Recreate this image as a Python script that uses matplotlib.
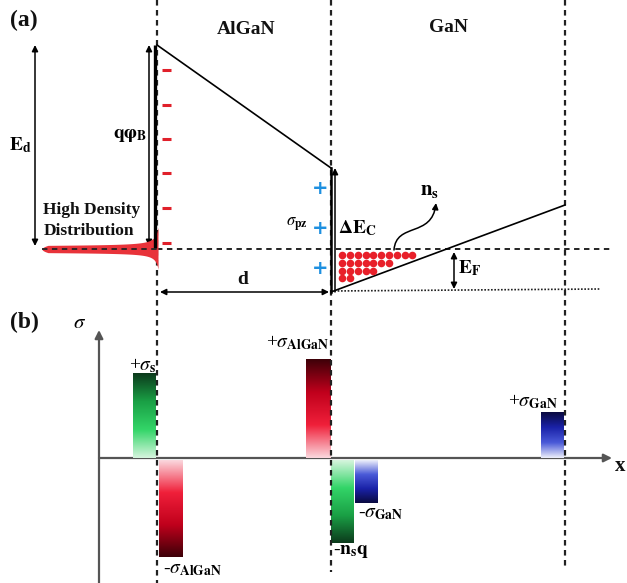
import numpy as np
import matplotlib
matplotlib.use("Agg")
import matplotlib.pyplot as plt
from matplotlib.patches import FancyArrowPatch
from matplotlib.path import Path
from matplotlib.colors import LinearSegmentedColormap

plt.rcParams['font.family'] = ['Liberation Serif', 'DejaVu Serif']
plt.rcParams['mathtext.fontset'] = 'stix'

# ---------------- data (schematic, pixel-like coordinates) ----------------
# interfaces
x_interfaces = [157, 331, 565]
fermi_y = 249
# conduction band (a)
algan_band_x = [157, 331]
algan_band_y = [45, 168]
gan_band_x = [331, 565]
gan_band_y = [292, 205]
# surface negative charges (red minus) and interface positive charges (blue plus)
minus_y = [70, 105, 139, 173, 208, 243]
plus_y = [189, 228, 268]
# 2DEG dots
dot_cols = [342, 350, 358, 366, 373, 381, 389, 397, 405, 412]
dot_rows = [255, 263, 271, 278]
dots_per_row = [10, 7, 5, 2]

# (b) charge bars
bar_names = ['+s', '-AlGaN', '+AlGaN', '-nsq', '-GaN', '+GaN']
bar_left = [133, 159, 306, 331, 355, 541]
bar_right = [156, 183, 331, 354, 378, 564]
bar_value = [85, -97, 99, -83, -43, 46]
bar_color = ['green', 'red', 'red', 'green', 'blue', 'blue']
axis_y0 = 458

fig = plt.figure(figsize=(6.27, 5.83), dpi=100)
ax = fig.add_axes([0, 0, 1, 1])
ax.set_xlim(0, 627)
ax.set_ylim(583, 0)
ax.axis('off')

lw = 1.2
# dashed vertical lines
ax.plot([157, 157], [0, 583], ls=(0, (2.5, 2)), color='#222', lw=1.6)
ax.plot([331, 331], [0, 572], ls=(0, (2.5, 2)), color='#222', lw=1.6)
ax.plot([565, 565], [0, 568], ls=(0, (2.5, 2)), color='#222', lw=1.6)

# fermi level
ax.plot([157, 610], [fermi_y, fermi_y], ls=(0, (3, 2.5)), color='#111', lw=1.3)
# dotted bottom line
ax.plot([331, 600], [291, 289], ls=(0, (1, 1)), color='#222', lw=1.2)

# high density distribution
xs = np.linspace(42, 158, 500)
taper = np.clip(np.sqrt((xs - 42) / 6.0), 0, 1)
w_up = (3.6 + 0.004 * (xs - 42) + 55 / (161 - xs) - 55 / 119) * taper
w_dn = (3.6 + 0.004 * (xs - 42) + 50 / (161 - xs) - 50 / 119) * taper
ax.fill_between(xs, fermi_y - w_up, fermi_y + w_dn, color='#e8333a', lw=0, zorder=2)
ax.plot([42, 157], [fermi_y, fermi_y], ls=(0, (3, 2.5)), color='#222', lw=1.3, zorder=3)

# band lines
ax.plot([155, 155], [45, 248], color='black', lw=2.4, solid_capstyle='butt')
ax.plot(algan_band_x, algan_band_y, color='black', lw=lw)
ax.plot([331, 331], [168, 292], color='black', lw=1.8)
ax.plot(gan_band_x, gan_band_y, color='black', lw=lw)

def darrow(x0, y0, x1, y1, lw=1.1):
    ax.add_patch(FancyArrowPatch((x0, y0), (x1, y1), arrowstyle='<|-|>',
                                 mutation_scale=9, color='black', lw=lw,
                                 shrinkA=0, shrinkB=0))

def sarrow(x0, y0, x1, y1, lw=1.1):
    ax.add_patch(FancyArrowPatch((x0, y0), (x1, y1), arrowstyle='-|>',
                                 mutation_scale=9, color='black', lw=lw,
                                 shrinkA=0, shrinkB=0))

darrow(35, 45, 35, 246)
darrow(149, 45, 149, 246)
sarrow(335, 292, 335, 168)
darrow(454, 252, 454, 289)
darrow(160, 292, 329, 292)

# minus / plus signs
for y in minus_y:
    ax.plot([162, 171], [y, y], color='#e0202a', lw=2.2, solid_capstyle='butt')
for y in plus_y:
    ax.text(320, y, '+', color='#1e90e0', fontsize=14, fontweight='bold',
            ha='center', va='center', family='DejaVu Sans')

# 2DEG dots
dx, dy = [], []
for r, n in zip(dot_rows, dots_per_row):
    for c in dot_cols[:n]:
        dx.append(c)
        dy.append(r)
ax.scatter(dx, dy, s=30, color='#e8202a', lw=0, zorder=4)

# n_s curvy arrow
verts = [(394, 250), (396, 222), (432, 238), (436, 203)]
codes = [Path.MOVETO, Path.CURVE4, Path.CURVE4, Path.CURVE4]
ax.add_patch(FancyArrowPatch(path=Path(verts, codes), arrowstyle='-|>',
                             mutation_scale=9, color='black', lw=1.1))

# texts (a)
bold = dict(fontweight='bold', color='#111')
ax.text(10, 20, '(a)', fontsize=17, va='center', **bold)
ax.text(246, 30, 'AlGaN', fontsize=14, ha='center', va='center', **bold)
ax.text(448, 28, 'GaN', fontsize=14, ha='center', va='center', **bold)
ax.text(20, 145, r'$\mathbf{E_d}$', fontsize=14, ha='center', va='center')
ax.text(130, 135, r'$\mathbf{q\varphi_B}$', fontsize=14, ha='center', va='center')
ax.text(92, 210, 'High Density', fontsize=12.5, ha='center', va='center', **bold)
ax.text(89, 231, 'Distribution', fontsize=12.5, ha='center', va='center', **bold)
ax.text(297, 225, r'$\sigma_{\mathbf{pz}}$', fontsize=12, ha='center', va='center')
ax.text(357, 228, r'$\mathbf{\Delta E_C}$', fontsize=14, ha='center', va='center')
ax.text(430, 190, r'$\mathbf{n_s}$', fontsize=15, ha='center', va='center')
ax.text(470, 268, r'$\mathbf{E_F}$', fontsize=14, ha='center', va='center')
ax.text(243, 280, 'd', fontsize=14, ha='center', va='center', **bold)

# ---------------- (b) ----------------
ax.text(10, 322, '(b)', fontsize=17, va='center', **bold)
ax.add_patch(FancyArrowPatch((99, 583), (99, 330), arrowstyle='-|>',
                             mutation_scale=12, color='#555', lw=1.6, shrinkA=0, shrinkB=0))
ax.add_patch(FancyArrowPatch((99, axis_y0), (612, axis_y0), arrowstyle='-|>',
                             mutation_scale=12, color='#555', lw=1.6, shrinkA=0, shrinkB=0))
ax.text(80, 323, r'$\sigma$', fontsize=15, ha='center', va='center')
ax.text(620, 466, 'x', fontsize=15, ha='center', va='center', **bold)

cmaps = {
    'green': LinearSegmentedColormap.from_list('g', ['#0c3a1c', '#1aa045', '#33d568', '#d6f5de']),
    'red': LinearSegmentedColormap.from_list('r', ['#3d0008', '#c0001c', '#f0203a', '#fbd8de']),
    'blue': LinearSegmentedColormap.from_list('b', ['#0a0a40', '#1a22a8', '#4a5ad8', '#eef0fb']),
}
grad = np.linspace(0, 1, 256).reshape(-1, 1)
for l, r, v, c in zip(bar_left, bar_right, bar_value, bar_color):
    if v > 0:
        top, bot = axis_y0 - v, axis_y0
        img = grad  # dark at top
    else:
        top, bot = axis_y0 + 2, axis_y0 + 2 - v
        img = grad[::-1]  # light at top
    ax.imshow(img, cmap=cmaps[c], extent=[l, r, bot, top], aspect='auto',
              interpolation='bilinear', zorder=1)

ax.set_xlim(0, 627)
ax.set_ylim(583, 0)

ax.text(143, 366, r'+$\sigma_\mathbf{s}$', fontsize=14, ha='center', va='center')
ax.text(298, 343, r'+$\sigma_\mathbf{AlGaN}$', fontsize=14, ha='center', va='center')
ax.text(192, 570, r'-$\sigma_\mathbf{AlGaN}$', fontsize=14, ha='center', va='center')
ax.text(351, 551, r'-$\mathbf{n_s q}$', fontsize=14, ha='center', va='center')
ax.text(381, 514, r'-$\sigma_\mathbf{GaN}$', fontsize=14, ha='center', va='center')
ax.text(533, 402, r'+$\sigma_\mathbf{GaN}$', fontsize=14, ha='center', va='center')

fig.savefig('out.png', dpi=100)
